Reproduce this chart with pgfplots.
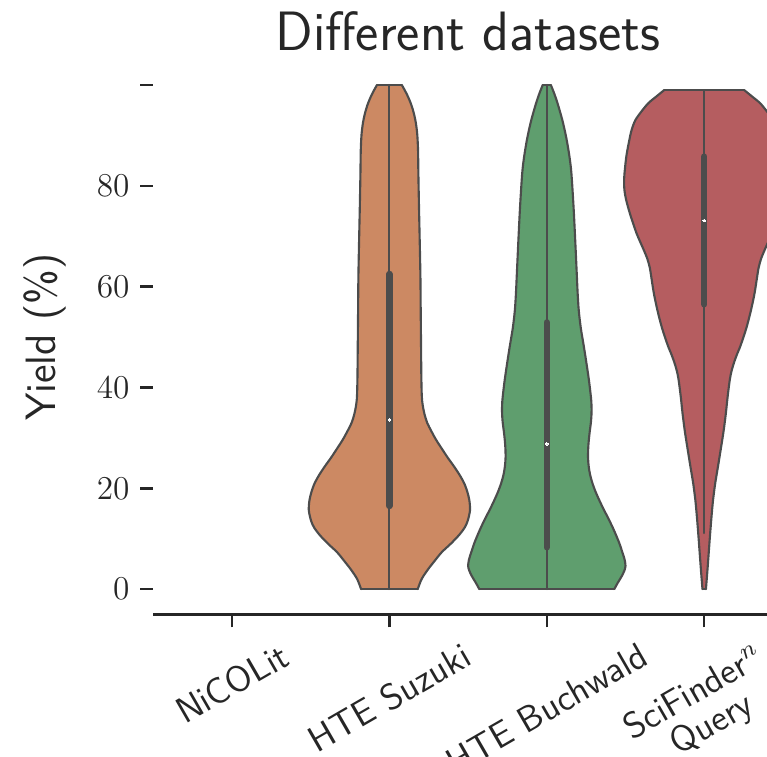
\documentclass[border=0pt]{standalone}
\usepackage{graphicx}
\usepackage{pgfplots}
\pgfplotsset{compat=1.18}
\usepackage{pgfplotstable}
\usepgfplotslibrary{fillbetween}
\definecolor{vorange}{HTML}{CC8963}
\definecolor{vgreen}{HTML}{5F9E6E}
\definecolor{vred}{HTML}{B55D60}
\definecolor{vgray}{HTML}{4C4C4C}
\definecolor{axgray}{HTML}{262626}

\pgfplotstableread{
y w
0 0.180
2 0.205
3.9 0.245
5.5 0.285
7.3 0.332
9 0.390
10.7 0.442
12.2 0.478
13.5 0.497
15.6 0.512
17.6 0.508
19.3 0.495
21.0 0.475
22.7 0.445
24.4 0.409
26.1 0.370
27.9 0.332
29.6 0.297
31.3 0.267
33.0 0.240
34.7 0.223
36.4 0.212
38.2 0.206
42 0.203
48.4 0.201
55 0.199
62.1 0.197
70 0.192
75.8 0.188
82.6 0.184
87 0.182
90.2 0.177
92.5 0.168
94.3 0.156
96 0.140
97.7 0.118
99 0.097
100 0.079
}\suzuki

\pgfplotstableread{
y w
0 0.429
1.2 0.450
2.5 0.475
3.6 0.492
4.6 0.500
5.9 0.494
7.3 0.480
9 0.462
10.7 0.440
12.4 0.416
14.2 0.388
15.9 0.360
17.6 0.334
19.3 0.310
21.0 0.290
22.7 0.275
24.4 0.266
26.1 0.262
27.9 0.263
29.6 0.267
31.3 0.273
33.0 0.280
34.7 0.284
36.5 0.284
38.2 0.280
41.6 0.267
45 0.251
48.4 0.234
51.8 0.216
55.3 0.203
58.7 0.196
62.1 0.191
68.9 0.181
75.8 0.170
82.6 0.156
86 0.143
89.5 0.124
93 0.099
96.4 0.068
98.5 0.045
100 0.026
}\buchwald

\pgfplotstableread{
y w
0 0.011
3.5 0.020
7.3 0.029
10.7 0.037
14.2 0.046
17.6 0.056
21.0 0.070
24.4 0.088
27.9 0.106
31.3 0.123
34.7 0.137
38.2 0.149
41.6 0.163
43.3 0.174
45.0 0.190
46.7 0.210
48.4 0.232
51.8 0.268
55.3 0.297
58.7 0.320
62.1 0.337
63.8 0.346
65.5 0.361
67.2 0.383
68.9 0.407
70.6 0.430
72.4 0.450
74.1 0.468
75.8 0.484
77.5 0.498
79.2 0.507
80.9 0.509
82.6 0.506
86.0 0.494
89.5 0.473
91.2 0.460
93.0 0.438
94.7 0.400
96.4 0.355
97.7 0.305
99.0 0.254
}\scifinder

\begin{document}
\begin{tikzpicture}
\begin{axis}[
  scale only axis,
  width=207.8pt, height=183.0pt,
  xmin=-0.5, xmax=3.5, ymin=-5, ymax=105,
  axis x line*=bottom, axis y line*=left,
  x axis line style={-, draw=axgray, line width=0.85pt},
  y axis line style={draw=none},
  tick align=outside,
  major tick length=4.3pt,
  tick style={draw=axgray, line width=0.85pt},
  xtick={0,1,2,3},
  xticklabels={{\rotatebox{30}{NiCOLit}},{\rotatebox{30}{HTE Suzuki}},{\rotatebox{30}{HTE Buchwald}},{\rotatebox{30}{\renewcommand{\arraystretch}{0.82}\begin{tabular}{@{}c@{}}SciFinder$^n$\\Query\end{tabular}}}},
  xticklabel style={anchor=north, font=\sffamily\fontsize{12}{14}\selectfont, text=axgray, yshift=-1pt},
  ytick={0,20,40,60,80,100},
  yticklabels={0,20,40,60,80,{}},
  yticklabel style={font=\fontsize{11}{13}\selectfont, text=axgray},
  ylabel={Yield (\%)},
  ylabel style={font=\sffamily\fontsize{14}{17}\selectfont, text=axgray, at={(rel axis cs:-0.1555,0.5)}, anchor=base},
  title={Different datasets},
  every axis title shift=0pt,
  title style={font=\sffamily\fontsize{18.3}{21}\selectfont, text=axgray, at={(rel axis cs:0.5,1)}, anchor=base, yshift=3.2pt},
  line cap=round, line join=round,
]
% HTE Suzuki
\addplot[name path=sR, draw=vgray, line width=0.7pt, smooth] table[x expr={1+\thisrow{w}}, y=y] {\suzuki};
\addplot[name path=sL, draw=vgray, line width=0.7pt, smooth] table[x expr={1-\thisrow{w}}, y=y] {\suzuki};
\addplot[fill=vorange, draw=none] fill between[of=sR and sL, reverse=true];
\addplot[draw=vgray, line width=0.7pt] coordinates {(0.820,0) (1.180,0)};
\addplot[draw=vgray, line width=0.7pt] coordinates {(0.921,100) (1.079,100)};
% HTE Buchwald
\addplot[name path=bR, draw=vgray, line width=0.7pt, smooth] table[x expr={2+\thisrow{w}}, y=y] {\buchwald};
\addplot[name path=bL, draw=vgray, line width=0.7pt, smooth] table[x expr={2-\thisrow{w}}, y=y] {\buchwald};
\addplot[fill=vgreen, draw=none] fill between[of=bR and bL, reverse=true];
\addplot[draw=vgray, line width=0.7pt] coordinates {(1.571,0) (2.429,0)};
\addplot[draw=vgray, line width=0.7pt] coordinates {(1.974,100) (2.026,100)};
% SciFinder
\addplot[name path=rR, draw=vgray, line width=0.7pt, smooth] table[x expr={3+\thisrow{w}}, y=y] {\scifinder};
\addplot[name path=rL, draw=vgray, line width=0.7pt, smooth] table[x expr={3-\thisrow{w}}, y=y] {\scifinder};
\addplot[fill=vred, draw=none] fill between[of=rR and rL, reverse=true];
\addplot[draw=vgray, line width=0.7pt] coordinates {(2.989,0) (3.011,0)};
\addplot[draw=vgray, line width=0.7pt] coordinates {(2.746,99) (3.254,99)};
% whiskers
\addplot[draw=vgray, line width=0.7pt] coordinates {(1,0) (1,100)};
\addplot[draw=vgray, line width=0.7pt] coordinates {(2,0) (2,100)};
\addplot[draw=vgray, line width=0.7pt] coordinates {(3,11.1) (3,99)};
% boxes
\addplot[draw=vgray, line width=2.15pt, line cap=round] coordinates {(1,16.5) (1,62.5)};
\addplot[draw=vgray, line width=2.15pt, line cap=round] coordinates {(2,8.3) (2,52.9)};
\addplot[draw=vgray, line width=2.15pt, line cap=round] coordinates {(3,56.5) (3,85.8)};
% medians
\addplot[only marks, color=white, mark=*, mark size=0.45pt, mark options={fill=white, draw=white, line width=0pt}] coordinates {(1,33.6) (2,28.8) (3,73.1)};
% page frame
\coordinate (BBsw) at (axis cs:-1.474,-33.13);
\coordinate (BBne) at (axis cs:3.399,116.87);
\end{axis}
\pgfresetboundingbox
\path[use as bounding box] (BBsw) rectangle (BBne);
\end{tikzpicture}
\end{document}
